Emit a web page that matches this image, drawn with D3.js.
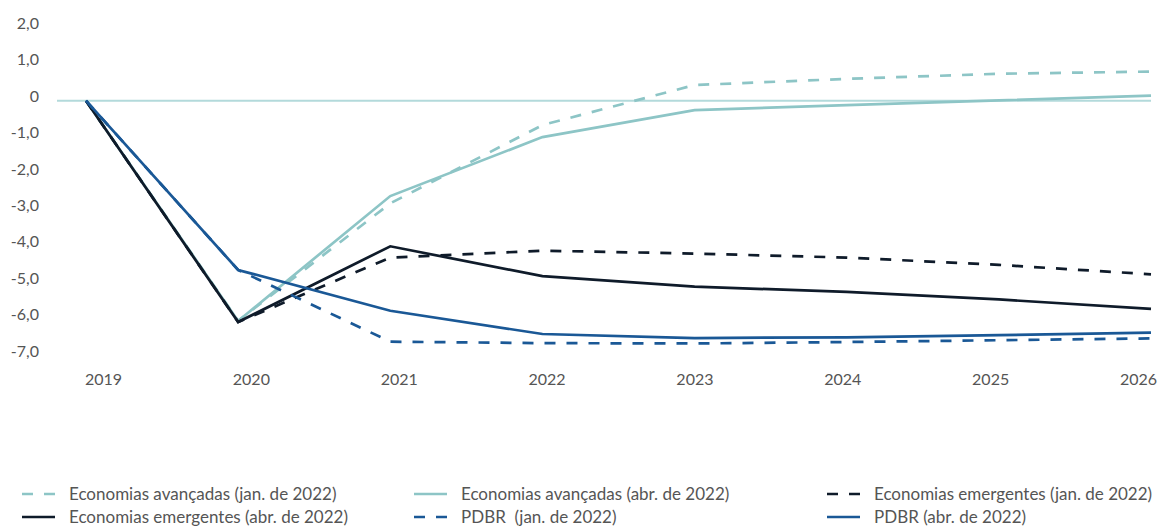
<!DOCTYPE html>
<html>
<head>
<meta charset="utf-8">
<script src="https://cdn.jsdelivr.net/npm/d3@7"></script>
<style>
  html, body { margin: 0; padding: 0; background: #fff; }
  svg { display: block; font-family: Lato, "Noto Sans", sans-serif; }
</style>
</head>
<body>
<svg id="chart" width="1158" height="527"></svg>
<script>
// ---- data ----
const years = [2019, 2020, 2021, 2022, 2023, 2024, 2025, 2026];
const yTicks = [2, 1, 0, -1, -2, -3, -4, -5, -6, -7];

const aeJan = [0, -6.05, -2.82, -0.67, 0.43, 0.60, 0.74, 0.80];
const aeAbr = [0, -6.05, -2.62, -1.00, -0.26, -0.12, 0.01, 0.14];
const emJan = [0, -6.08, -4.31, -4.12, -4.20, -4.31, -4.51, -4.77];
const emAbr = [0, -6.08, -4.00, -4.82, -5.11, -5.25, -5.46, -5.72];
const pdJan = [0, -4.65, -6.62, -6.66, -6.67, -6.63, -6.58, -6.53];
const pdAbr = [0, -4.65, -5.77, -6.41, -6.52, -6.50, -6.44, -6.37];

const seriesNames = [
  "Economias avançadas (jan. de 2022)",
  "Economias avançadas (abr. de 2022)",
  "Economias emergentes (jan. de 2022)",
  "Economias emergentes (abr. de 2022)",
  "PDBR  (jan. de 2022)",
  "PDBR (abr. de 2022)"
];
const seriesValues = [aeJan, aeAbr, emJan, emAbr, pdJan, pdAbr];

// ---- styles ----
const TEAL = "#8dc5c6", NAVY = "#0f1b2a", BLUE = "#1a5896";
const styles = [
  {color: TEAL, dash: "11,11"},
  {color: TEAL, dash: null},
  {color: NAVY, dash: "11,11"},
  {color: NAVY, dash: null},
  {color: BLUE, dash: "11,11"},
  {color: BLUE, dash: null}
];

const svg = d3.select("#chart");

const x = d3.scaleLinear().domain([2019, 2026]).range([86, 1151]);
const y = d3.scaleLinear().domain([-7, 2]).range([355.5, 27.9]);
const xLab = d3.scalePoint().domain(years).range([103, 1138]);

// y axis labels
const yAxis = d3.axisLeft(y).tickValues(yTicks).tickSize(0).tickPadding(0)
  .tickFormat(v => v === 0 ? "0" : d3.format(".1f")(v).replace(".", ",").replace("\u2212", "-"));
const gy = svg.append("g").attr("transform", "translate(39,-4.5)").call(yAxis);
gy.select(".domain").remove();
gy.selectAll("text").attr("fill", "#555").style("font-size", "16px")
  .style("font-family", "Lato, sans-serif");

// x axis labels
const xAxis = d3.axisBottom(xLab).tickSize(0).tickPadding(0);
const gx = svg.append("g").attr("transform", "translate(0,374)").call(xAxis);
gx.select(".domain").remove();
gx.selectAll("text").attr("fill", "#555").style("font-size", "16px")
  .style("font-family", "Lato, sans-serif");

// zero line
svg.append("line")
  .attr("x1", 57).attr("x2", x(2026))
  .attr("y1", y(0)).attr("y2", y(0))
  .attr("stroke", "#b3dadb").attr("stroke-width", 2);

// lines
const line = d3.line().x((d, i) => x(years[i])).y(d => y(d));
seriesValues.forEach((vals, k) => {
  svg.append("path")
    .datum(vals)
    .attr("d", line)
    .attr("fill", "none")
    .attr("stroke", styles[k].color)
    .attr("stroke-width", 2.7)
    .attr("stroke-linejoin", "miter")
    .attr("stroke-dasharray", styles[k].dash);
});

// legend
const colX = [22, 414, 827];
const rowY = [494, 517];
seriesNames.forEach((name, k) => {
  const cx = colX[k % 3], cy = rowY[Math.floor(k / 3)];
  const g = svg.append("g").attr("transform", `translate(${cx},${cy})`);
  g.append("line").attr("x1", 0).attr("x2", 33).attr("y1", 0).attr("y2", 0)
    .attr("stroke", styles[k].color).attr("stroke-width", 2.7)
    .attr("stroke-dasharray", styles[k].dash);
  g.append("text").attr("x", 47).attr("y", 0).attr("dy", "0.35em")
    .attr("fill", "#555").style("font-size", "17px")
    .attr("xml:space", "preserve")
    .text(name);
});
</script>
</body>
</html>
